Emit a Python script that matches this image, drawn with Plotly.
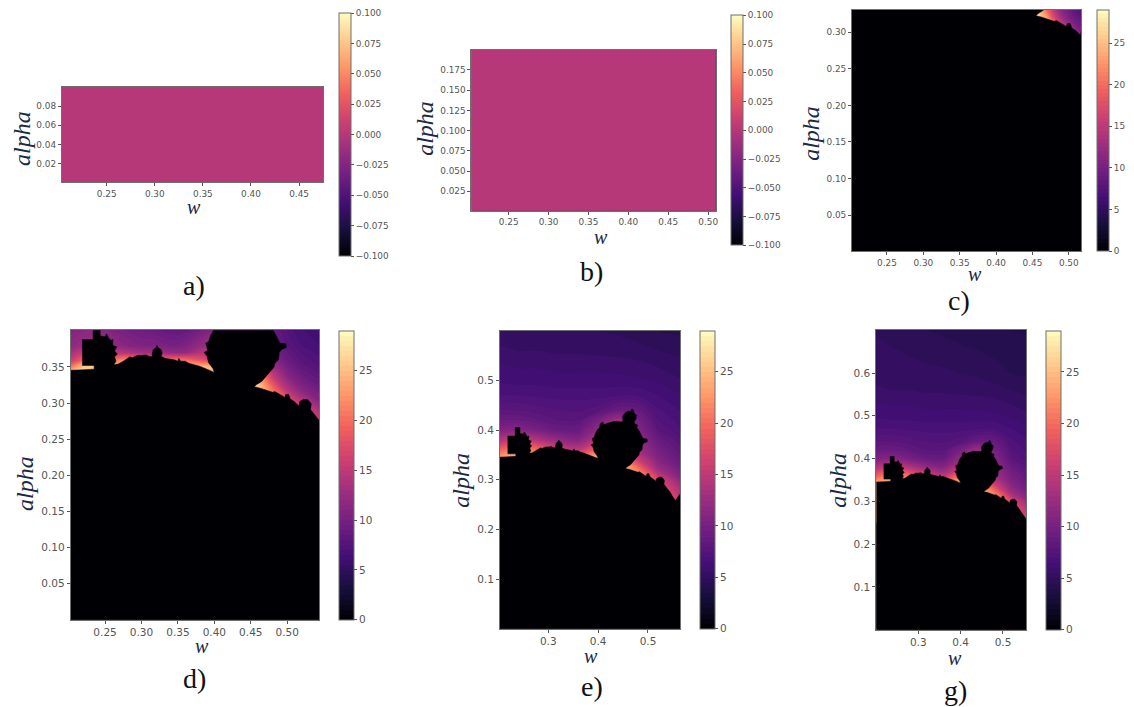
import plotly.graph_objects as go

W, H = 1134, 707

# ---------- data ----------
TICKS_CBAR_SMALL = [-0.1, -0.075, -0.05, -0.025, 0.0, 0.025, 0.05, 0.075, 0.1]
TICKS_CBAR_ITER = [0, 5, 10, 15, 20, 25]
ITER_MAX = 29

# outline of the z = 0 (black) region, shared by panels c, d, e and g
BODY_W = [0.19, 0.19, 0.219, 0.235, 0.235, 0.219, 0.219, 0.2336, 0.2336, 0.2433, 0.2433, 0.25, 0.252, 0.255, 0.258,
          0.261, 0.2605, 0.266, 0.263, 0.267, 0.263, 0.265, 0.262, 0.268, 0.275, 0.28, 0.284, 0.288, 0.294, 0.30,
          0.306, 0.31, 0.315, 0.3145, 0.316, 0.32, 0.321, 0.323, 0.327, 0.3285, 0.327, 0.332, 0.338, 0.345, 0.35,
          0.351, 0.354, 0.36, 0.365, 0.37, 0.375, 0.38, 0.385, 0.39, 0.395, 0.40, 0.398, 0.392, 0.39, 0.386, 0.391,
          0.388, 0.392, 0.395, 0.399, 0.403, 0.404, 0.409, 0.412, 0.42, 0.43, 0.44, 0.448, 0.45, 0.449, 0.453, 0.46,
          0.465, 0.468, 0.471, 0.472, 0.477, 0.476, 0.472, 0.474, 0.479, 0.478, 0.483, 0.488, 0.49, 0.498, 0.499,
          0.492, 0.489, 0.488, 0.483, 0.482, 0.478, 0.475, 0.47, 0.465, 0.457, 0.455, 0.462, 0.47, 0.476, 0.48,
          0.483, 0.49, 0.495, 0.496, 0.498, 0.502, 0.504, 0.51, 0.515, 0.516, 0.517, 0.522, 0.528, 0.533, 0.532,
          0.54, 0.5438, 0.55, 0.555, 0.5646, 0.58, 0.58]
BODY_ALPHA = [-0.01, 0.345, 0.346, 0.347, 0.352, 0.352, 0.388, 0.388, 0.405, 0.405, 0.393, 0.392, 0.396, 0.39, 0.387,
              0.388, 0.38, 0.378, 0.372, 0.368, 0.364, 0.358, 0.353, 0.354, 0.358, 0.361, 0.364, 0.363, 0.366, 0.366,
              0.367, 0.365, 0.364, 0.368, 0.374, 0.377, 0.38, 0.377, 0.374, 0.369, 0.365, 0.362, 0.361, 0.36, 0.358,
              0.362, 0.358, 0.358, 0.355, 0.354, 0.352, 0.351, 0.349, 0.347, 0.345, 0.3425, 0.348, 0.356, 0.365, 0.37,
              0.373, 0.383, 0.385, 0.394, 0.401, 0.405, 0.412, 0.416, 0.411, 0.414, 0.417, 0.417, 0.416, 0.42, 0.426,
              0.433, 0.438, 0.437, 0.443, 0.44, 0.434, 0.43, 0.422, 0.416, 0.412, 0.41, 0.405, 0.397, 0.388, 0.383,
              0.382, 0.377, 0.374, 0.37, 0.36, 0.355, 0.35, 0.345, 0.342, 0.335, 0.33, 0.325, 0.3225, 0.321, 0.318,
              0.316, 0.315, 0.316, 0.312, 0.309, 0.307, 0.312, 0.312, 0.306, 0.302, 0.298, 0.296, 0.302, 0.305, 0.305,
              0.299, 0.291, 0.28, 0.276, 0.265, 0.258, 0.272, 0.272, -0.01]

# panel c: escape counts around the tip at the upper right
C_W = [0.45, 0.46, 0.47, 0.48, 0.49, 0.50, 0.51, 0.52]
C_ALPHA = [0.29, 0.30, 0.31, 0.32, 0.33, 0.34]
C_Z = [[27, 27, 27, 27, 25, 20, 15, 12],
       [27, 27, 27, 26, 21, 15, 12, 10],
       [27, 27, 26, 22, 16, 12.5, 10, 9],
       [27, 26, 23, 17, 13, 10.5, 9, 8],
       [27, 25, 20, 15, 11.5, 9.5, 8, 7.3],
       [27, 24, 19, 14, 11, 9, 7.5, 7]]

# panel d: escape counts in the band above the black region
D_W = [0.20, 0.22, 0.24, 0.26, 0.28, 0.30, 0.32, 0.34, 0.36, 0.38, 0.40, 0.42, 0.44, 0.46, 0.48, 0.50, 0.52, 0.55]
D_ALPHA = [0.27, 0.30, 0.32, 0.34, 0.35, 0.36, 0.37, 0.38, 0.41]
D_Z = [[25, 25, 25, 25, 25, 25, 25, 25, 25, 25, 25, 25, 25, 25, 25, 25, 25, 16],
       [25, 25, 25, 25, 25, 25, 25, 25, 25, 25, 25, 25, 25, 26, 23, 20, 15, 11],
       [25, 25, 25, 25, 25, 25, 25, 25, 25, 25, 25, 25, 24, 26, 20, 14, 11, 9],
       [25, 26, 26, 26, 26, 25, 25, 25, 25, 25, 25, 25, 25, 23, 15, 11, 9, 7.8],
       [20, 26, 26, 25, 25, 24, 24, 24, 24, 25, 25, 25, 24, 21, 13, 10, 8.3, 7.3],
       [15, 19, 20, 20, 22, 21, 20, 20, 20, 18, 16, 16, 16, 16, 11.5, 9, 7.8, 7],
       [13, 15.5, 15.5, 15, 14, 13, 13, 12, 12, 14, 15, 15, 15, 15, 10, 8.5, 7.4, 6.7],
       [11.5, 12.5, 12.5, 12, 11, 10.5, 10.5, 10, 10.5, 12, 13, 13, 13, 13, 9.5, 8, 7, 6.4],
       [10, 11, 11, 10, 9.5, 9, 8.5, 8, 8, 9, 10, 10, 10, 10, 8.5, 7.2, 6.4, 6]]

# panels e and g: escape counts above the black region
F_W = [0.20, 0.24, 0.28, 0.32, 0.36, 0.40, 0.44, 0.48, 0.52, 0.57]
F_ALPHA = [0.25, 0.30, 0.32, 0.34, 0.36, 0.38, 0.40, 0.42, 0.44, 0.47, 0.50, 0.54, 0.56, 0.60, 0.66, 0.70]
F_Z = [[25, 25, 25, 25, 25, 25, 25, 25, 22, 16],
       [25, 25, 25, 25, 25, 25, 25, 25, 17, 11],
       [25, 25, 25, 25, 25, 25, 26, 21, 13, 9.5],
       [24, 25, 25, 24, 22, 25, 24, 16, 11, 8.5],
       [19, 22, 20, 17, 15, 20, 20, 13, 10, 8],
       [14, 16, 14, 12, 11, 15, 18, 12, 9, 7.5],
       [10.5, 11, 10, 9, 9, 12, 16, 11, 8, 7],
       [9, 9, 8.5, 8, 8, 10, 13, 10, 7.5, 6.7],
       [8, 8, 7.7, 7.5, 7.4, 7.8, 9, 8.8, 7.1, 6.4],
       [7, 7, 6.9, 6.8, 6.8, 6.8, 6.9, 6.9, 6.5, 6],
       [6.4, 6.3, 6.3, 6.2, 6.2, 6.2, 6.2, 6.1, 5.9, 5.5],
       [5.9, 5.8, 5.8, 5.7, 5.7, 5.7, 5.6, 5.5, 5.3, 5.1],
       [5.6, 5.5, 5.5, 5.4, 5.4, 5.3, 5.3, 5.2, 5, 4.8],
       [5.3, 5.25, 5.2, 5.15, 5.1, 5, 4.9, 4.7, 4.5, 4.4],
       [5.1, 5, 4.9, 4.75, 4.65, 4.55, 4.45, 4.35, 4.25, 4.15],
       [4.95, 4.8, 4.65, 4.5, 4.4, 4.3, 4.2, 4.1, 4, 3.9]]

# ---------- layout of the panels (pixel boxes and axis ranges) ----------
MAGMA = [[0.0, "#000004"], [0.1111, "#180f3d"], [0.2222, "#440f76"], [0.3333, "#721f81"], [0.4444, "#9e2f7f"],
         [0.5556, "#cd4071"], [0.6667, "#f1605d"], [0.7778, "#fd9668"], [0.8889, "#feca8d"], [1.0, "#fcfdbf"]]

PANELS = {
    "a": dict(box=(62, 324, 87, 182), xr=(0.2034, 0.475), yr=(0.001, 0.0998), cb=(340, 352, 13, 256),
              xt=[0.25, 0.30, 0.35, 0.40, 0.45], yt=[0.02, 0.04, 0.06, 0.08], xf=".2f", yf=".2f", fs=8.9,
              alpha=(22, 138), w=(195, 207), tag=(195, 285)),
    "b": dict(box=(472.7, 717.7, 50, 210.7), xr=(0.2034, 0.5096), yr=(0.001, 0.1997), cb=(732.7, 745, 15.3, 245.3),
              xt=[0.25, 0.30, 0.35, 0.40, 0.45, 0.50], yt=[0.025, 0.05, 0.075, 0.1, 0.125, 0.15, 0.175],
              xf=".2f", yf=".3f", fs=8.9, alpha=(426, 128), w=(603, 237), tag=(593, 271)),
    "c": dict(box=(854.3, 1084, 10, 251), xr=(0.202, 0.517), yr=(0.0008, 0.3305), cb=(1100, 1112, 10, 251),
              xt=[0.25, 0.30, 0.35, 0.40, 0.45, 0.50], yt=[0.05, 0.10, 0.15, 0.20, 0.25, 0.30],
              xf=".2f", yf=".2f", fs=8.9, alpha=(813, 133), w=(978, 274), tag=(962, 301)),
    "d": dict(box=(71, 320, 330.3, 619.7), xr=(0.203, 0.5438), yr=(0.0, 0.4008), cb=(339.7, 354.3, 330.3, 619.7),
              xt=[0.25, 0.30, 0.35, 0.40, 0.45, 0.50], yt=[0.05, 0.10, 0.15, 0.20, 0.25, 0.30, 0.35],
              xf=".2f", yf=".2f", fs=10.5, alpha=(25, 483), w=(203, 646), tag=(195, 678)),
    "e": dict(box=(501.3, 682, 330.7, 628.7), xr=(0.2032, 0.5646), yr=(0.0, 0.5999), cb=(702, 716.7, 330.7, 628.7),
              xt=[0.3, 0.4, 0.5], yt=[0.1, 0.2, 0.3, 0.4, 0.5], xf=".1f", yf=".1f", fs=10.5,
              alpha=(462, 480), w=(593, 656), tag=(594, 686)),
    "g": dict(box=(878.7, 1029, 330.3, 629.7), xr=(0.2012, 0.555), yr=(0.0, 0.6998), cb=(1048.7, 1063.3, 330.3, 629.7),
              xt=[0.3, 0.4, 0.5], yt=[0.1, 0.2, 0.3, 0.4, 0.5, 0.6], xf=".1f", yf=".1f", fs=10.5,
              alpha=(840, 480), w=(958, 658), tag=(958, 690)),
}
FIELDS = {"c": (C_W, C_ALPHA, C_Z), "d": (D_W, D_ALPHA, D_Z), "e": (F_W, F_ALPHA, F_Z), "g": (F_W, F_ALPHA, F_Z)}

TICK_COLOR = "#555555"
FRAME = "#6f6f6f"
BLACK = "#000004"

fig = go.Figure()
layout = {}
annotations = []


def colorbar(p, small):
    x0, x1, y0, y1 = p["cb"]
    cb = dict(x=x0 / W, xanchor="left", xpad=0, y=1 - y1 / H, yanchor="bottom", ypad=0,
              len=(y1 - y0) / H, lenmode="fraction", thickness=x1 - x0, thicknessmode="pixels",
              outlinewidth=1, outlinecolor=FRAME, ticks="outside", ticklen=3, tickwidth=1, tickcolor=TICK_COLOR,
              tickfont=dict(family="DejaVu Sans", size=p["fs"], color=TICK_COLOR))
    if small:
        cb.update(tickmode="array", tickvals=TICKS_CBAR_SMALL, tickformat=".3f")
    else:
        cb.update(tickmode="array", tickvals=TICKS_CBAR_ITER)
    return cb


for i, (name, p) in enumerate(PANELS.items(), start=1):
    xa, ya = f"x{i}", f"y{i}"
    x0, x1, y0, y1 = p["box"]
    tickfont = dict(family="DejaVu Sans", size=p["fs"], color=TICK_COLOR)
    common = dict(showgrid=False, zeroline=False, showline=True, mirror=True, linecolor=FRAME, linewidth=1,
                  ticks="outside", ticklen=3, tickwidth=1, tickcolor=TICK_COLOR, tickfont=tickfont)
    layout[f"xaxis{i}"] = dict(domain=[x0 / W, x1 / W], range=list(p["xr"]), anchor=ya, tickmode="array",
                               tickvals=p["xt"], tickformat=p["xf"], **common)
    layout[f"yaxis{i}"] = dict(domain=[1 - y1 / H, 1 - y0 / H], range=list(p["yr"]), anchor=xa, tickmode="array",
                               tickvals=p["yt"], tickformat=p["yf"], **common)

    if name in ("a", "b"):
        fig.add_trace(go.Heatmap(x=[0.1, 0.6], y=[-0.1, 0.3], z=[[0, 0], [0, 0]], zmin=-0.1, zmax=0.1,
                                 colorscale=MAGMA, colorbar=colorbar(p, True), xaxis=xa, yaxis=ya,
                                 hoverinfo="skip"))
    else:
        fw, fa, fz = FIELDS[name]
        fig.add_trace(go.Contour(x=fw, y=fa, z=fz, zmin=0, zmax=ITER_MAX, autocontour=False,
                                 contours=dict(start=0, end=ITER_MAX, size=0.5, coloring="fill", showlines=False),
                                 line=dict(width=0), colorscale=MAGMA, colorbar=colorbar(p, False),
                                 xaxis=xa, yaxis=ya, hoverinfo="skip"))
        fig.add_trace(go.Scatter(x=BODY_W, y=BODY_ALPHA, mode="lines", fill="toself", fillcolor=BLACK,
                                 line=dict(width=0.5, color=BLACK), xaxis=xa, yaxis=ya, hoverinfo="skip",
                                 showlegend=False))

    ax, ay = p["alpha"]
    annotations.append(dict(x=ax / W, y=1 - ay / H, xref="paper", yref="paper", text="<i>alpha</i>", textangle=-90,
                            showarrow=False, xanchor="center", yanchor="middle",
                            font=dict(family="Liberation Serif", size=24, color="#1b2a44")))
    wx, wy = p["w"]
    annotations.append(dict(x=wx / W, y=1 - wy / H, xref="paper", yref="paper", text="<i>w</i>",
                            showarrow=False, xanchor="center", yanchor="middle",
                            font=dict(family="Liberation Serif", size=20, color="#1b2a44")))
    tx, ty = p["tag"]
    annotations.append(dict(x=tx / W, y=1 - ty / H, xref="paper", yref="paper", text=f"{name})",
                            showarrow=False, xanchor="center", yanchor="middle",
                            font=dict(family="Liberation Serif", size=28, color="#111111")))

fig.update_layout(width=W, height=H, autosize=False, margin=dict(l=0, r=0, t=0, b=0), paper_bgcolor="white",
                  plot_bgcolor=BLACK, showlegend=False, annotations=annotations, **layout)

fig.write_html("out.html", config={"displayModeBar": False}, post_script="document.body.style.margin='0';")
